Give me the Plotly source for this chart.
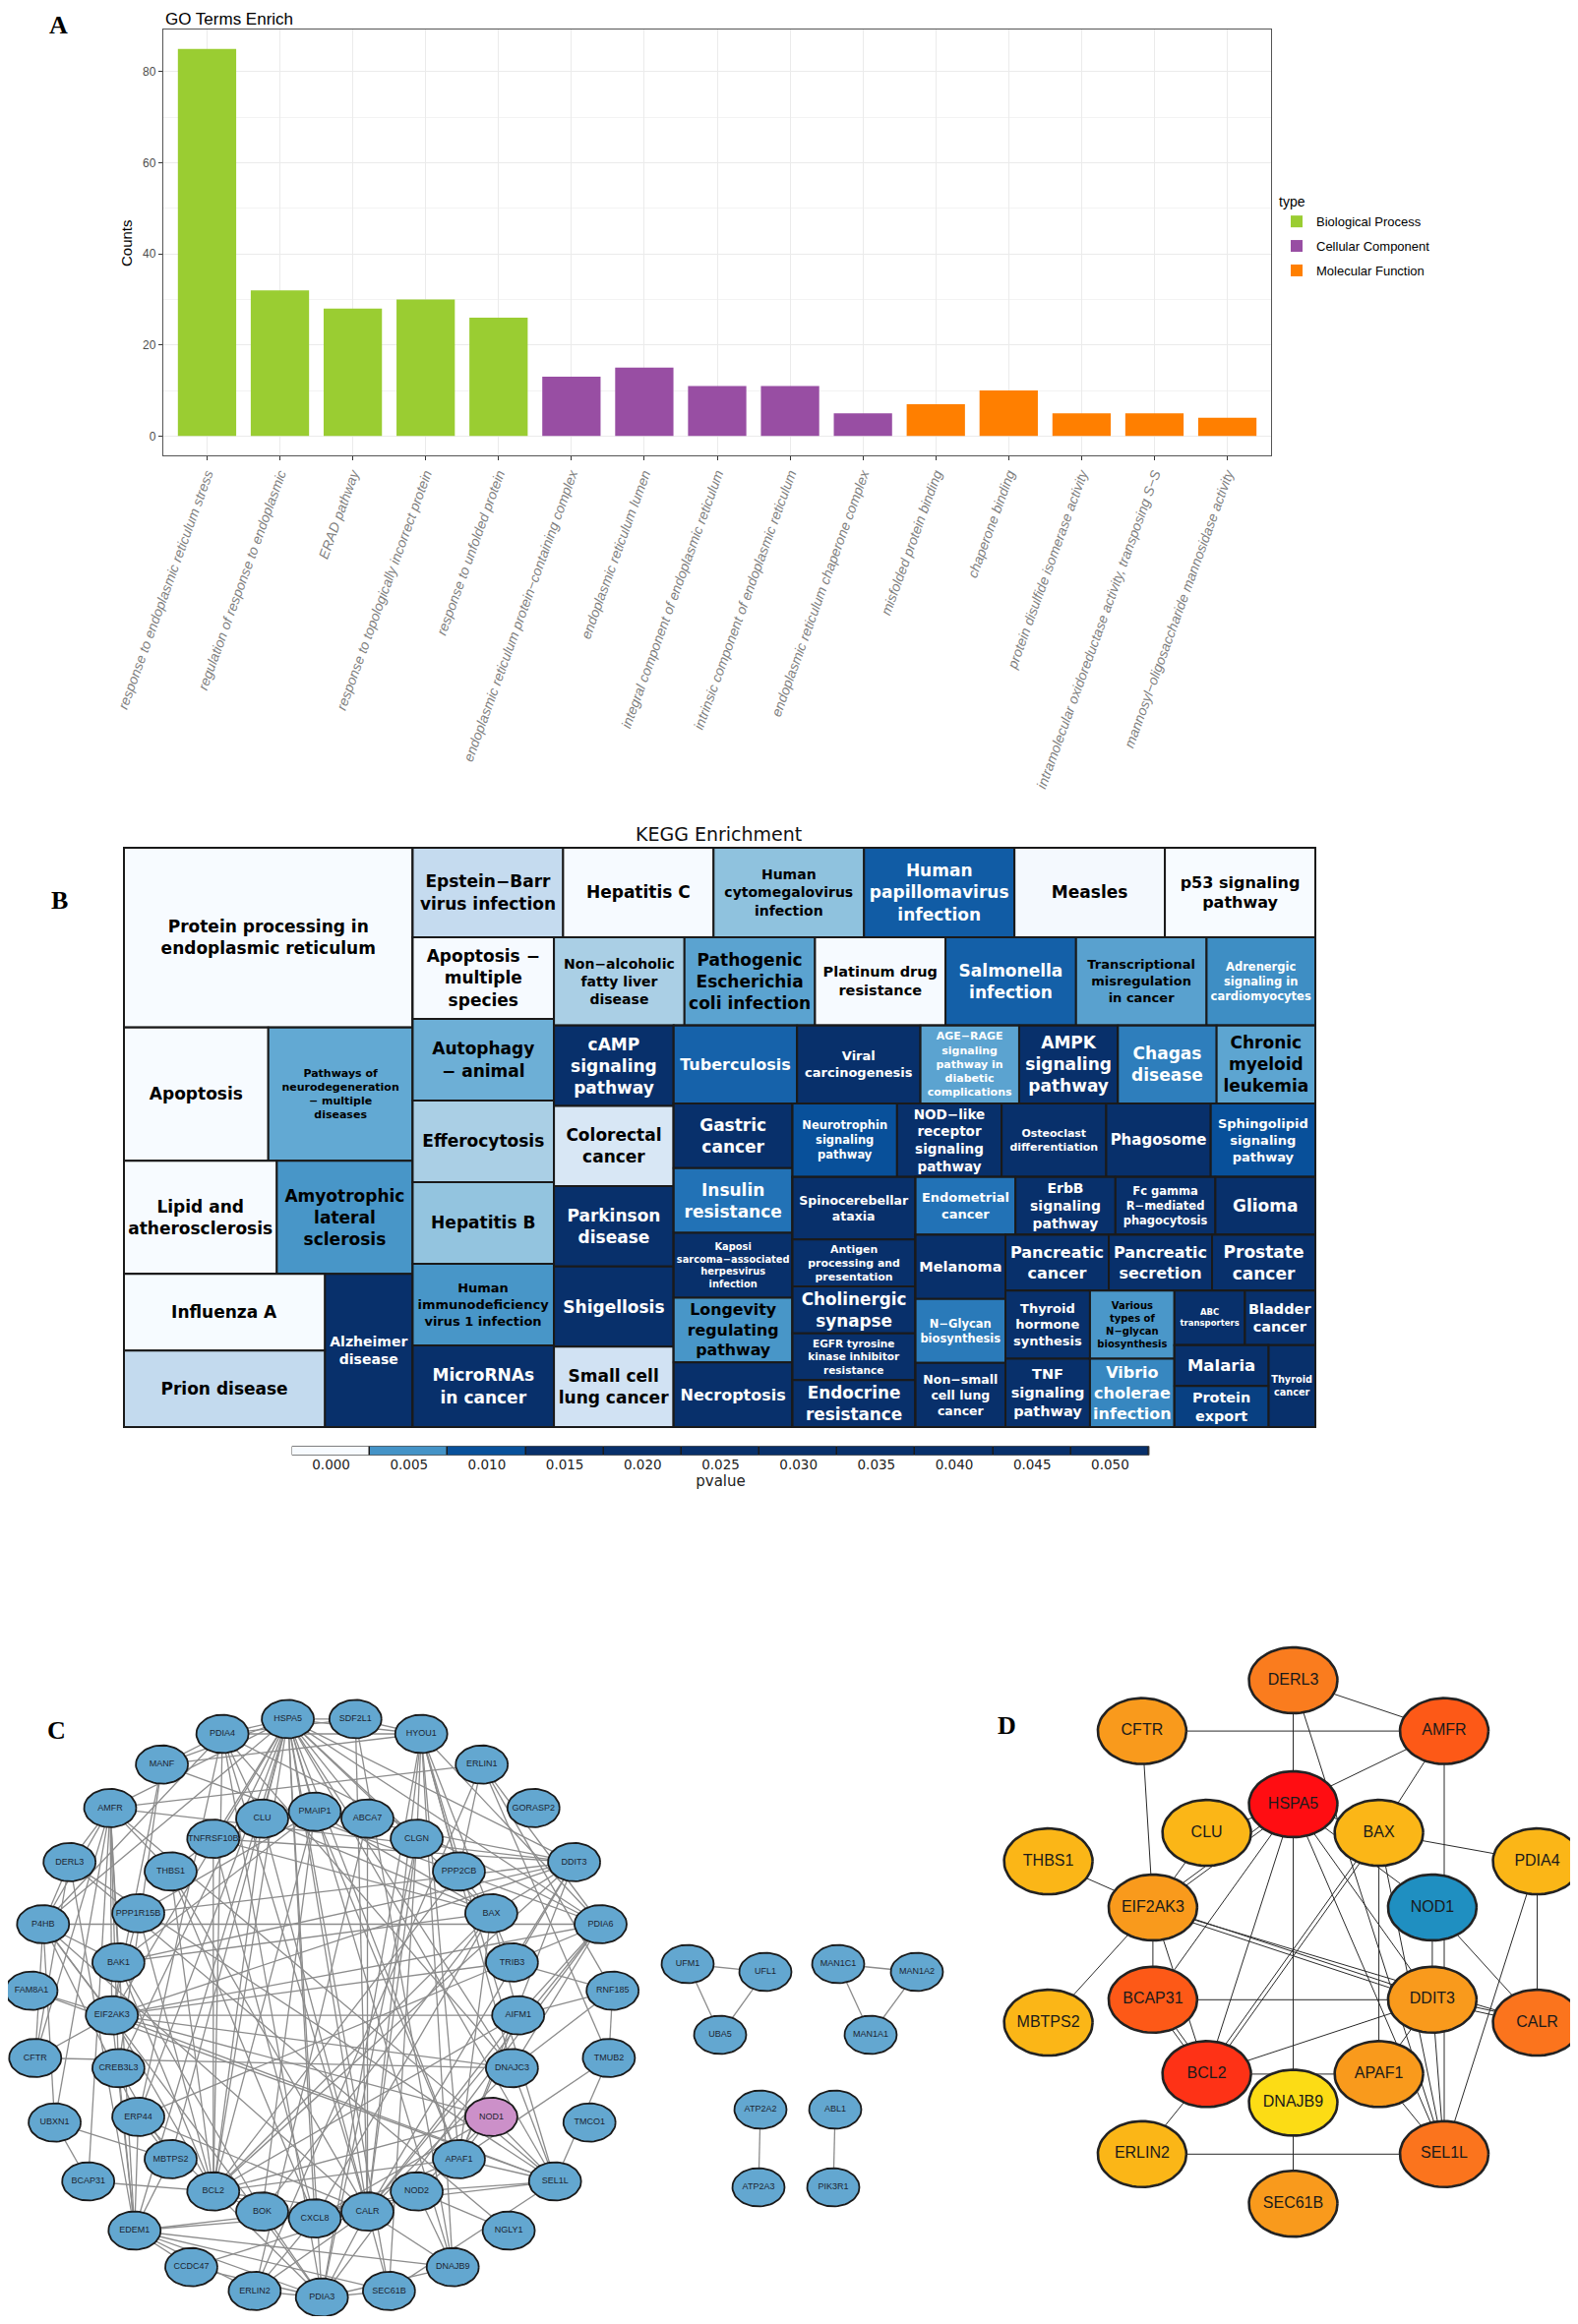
import numpy as np
import plotly.graph_objects as go
from plotly.colors import sample_colorscale, make_colorscale, sequential

# The page body keeps its default 8 px margin, so the figure is sized to fit the
# 1604 x 2363 window inside that margin and page positions are converted accordingly.
PAGE_W, PAGE_H, BODY_MARGIN = 1604, 2363, 8
W, H = PAGE_W - 2 * BODY_MARGIN, PAGE_H - 2 * BODY_MARGIN


def fx(v):
    return (v - BODY_MARGIN) / W


def fy(v):
    return 1 - (v - BODY_MARGIN) / H


# ---------------- Panel A : GO enrichment ----------------
go_terms = [
    "response to endoplasmic reticulum stress",
    "regulation of response to endoplasmic",
    "ERAD pathway",
    "response to topologically incorrect protein",
    "response to unfolded protein",
    "endoplasmic reticulum protein−containing complex",
    "endoplasmic reticulum lumen",
    "integral component of endoplasmic reticulum",
    "intrinsic component of endoplasmic reticulum",
    "endoplasmic reticulum chaperone complex",
    "misfolded protein binding",
    "chaperone binding",
    "protein disulfide isomerase activity",
    "intramolecular oxidoreductase activity, transposing S−S",
    "mannosyl−oligosaccharide mannosidase activity",
]
go_counts = [85, 32, 28, 30, 26, 13, 15, 11, 11, 5, 7, 10, 5, 5, 4]
go_types = (["Biological Process"] * 5 + ["Cellular Component"] * 5
            + ["Molecular Function"] * 5)
go_type_order = ["Biological Process", "Cellular Component", "Molecular Function"]
go_type_colors = ["#9acd32", "#984ea3", "#ff7f00"]

# ---------------- Panel B : KEGG treemap ----------------
kegg_terms = [
    "Protein processing in endoplasmic reticulum", "Apoptosis",
    "Pathways of neurodegeneration − multiple diseases", "Lipid and atherosclerosis",
    "Amyotrophic lateral sclerosis", "Influenza A", "Prion disease", "Alzheimer disease",
    "Epstein−Barr virus infection", "Hepatitis C", "Human cytomegalovirus infection",
    "Human papillomavirus infection", "Measles", "p53 signaling pathway",
    "Apoptosis − multiple species", "Autophagy − animal", "Efferocytosis", "Hepatitis B",
    "Human immunodeficiency virus 1 infection", "MicroRNAs in cancer",
    "Non−alcoholic fatty liver disease", "Pathogenic Escherichia coli infection",
    "Platinum drug resistance", "Salmonella infection",
    "Transcriptional misregulation in cancer", "Adrenergic signaling in cardiomyocytes",
    "cAMP signaling pathway", "Colorectal cancer", "Parkinson disease", "Shigellosis",
    "Small cell lung cancer", "Tuberculosis", "Viral carcinogenesis",
    "AGE−RAGE signaling pathway in diabetic complications", "AMPK signaling pathway",
    "Chagas disease", "Chronic myeloid leukemia", "Gastric cancer", "Insulin resistance",
    "Kaposi sarcoma−associated herpesvirus infection", "Longevity regulating pathway",
    "Necroptosis", "Neurotrophin signaling pathway", "NOD−like receptor signaling pathway",
    "Osteoclast differentiation", "Phagosome", "Sphingolipid signaling pathway",
    "Spinocerebellar ataxia", "Antigen processing and presentation", "Cholinergic synapse",
    "EGFR tyrosine kinase inhibitor resistance", "Endocrine resistance",
    "Endometrial cancer", "ErbB signaling pathway", "Fc gamma R−mediated phagocytosis",
    "Glioma", "Melanoma", "N−Glycan biosynthesis", "Non−small cell lung cancer",
    "Pancreatic cancer", "Pancreatic secretion", "Prostate cancer",
    "Thyroid hormone synthesis", "TNF signaling pathway",
    "Various types of N−glycan biosynthesis", "Vibrio cholerae infection",
    "ABC transporters", "Bladder cancer", "Malaria", "Protein export", "Thyroid cancer",
]
kegg_counts = [27, 10, 10, 9, 8, 8, 8, 7,
               7, 7, 7, 7, 7, 7,
               6, 6, 6, 6, 6, 6,
               6, 6, 6, 6, 6, 5,
               5, 5, 5, 5, 5,
               5, 5, 4, 4, 4, 4,
               4, 4, 4, 4, 4,
               4, 4, 4, 4, 4,
               4, 3, 3, 3, 3,
               3, 3, 3, 3,
               3, 3, 3,
               3, 3, 3,
               3, 3, 3, 3,
               2, 2, 2, 2, 2]
kegg_pvalues = [2e-8, 5e-6, 0.0036, 4e-6, 0.0048, 6e-6, 0.00085, 0.021,
                0.0008, 1e-5, 0.0022, 0.009, 3e-5, 5e-6,
                1e-5, 0.0032, 0.0015, 0.0021, 0.0048, 0.019,
                0.0015, 0.0039, 1.5e-5, 0.0087, 0.004, 0.0053,
                0.024, 0.00033, 0.028, 0.031, 0.0005,
                0.0085, 0.026, 0.0039, 0.020, 0.0064, 0.0038,
                0.033, 0.0072, 0.035, 0.0048, 0.037,
                0.0101, 0.022, 0.039, 0.040, 0.0101,
                0.041, 0.042, 0.043, 0.044, 0.045,
                0.0072, 0.025, 0.027, 0.029,
                0.030, 0.0067, 0.032,
                0.034, 0.036, 0.038,
                0.040, 0.046, 0.0047, 0.0058,
                0.047, 0.048, 0.049, 0.0115, 0.050]
kegg_labels = [
    "Protein processing in<br>endoplasmic reticulum", "Apoptosis",
    "Pathways of<br>neurodegeneration<br>− multiple<br>diseases", "Lipid and<br>atherosclerosis",
    "Amyotrophic<br>lateral<br>sclerosis", "Influenza A", "Prion disease", "Alzheimer<br>disease",
    "Epstein−Barr<br>virus infection", "Hepatitis C", "Human<br>cytomegalovirus<br>infection",
    "Human<br>papillomavirus<br>infection", "Measles", "p53 signaling<br>pathway",
    "Apoptosis −<br>multiple<br>species", "Autophagy<br>− animal", "Efferocytosis", "Hepatitis B",
    "Human<br>immunodeficiency<br>virus 1 infection", "MicroRNAs<br>in cancer",
    "Non−alcoholic<br>fatty liver<br>disease", "Pathogenic<br>Escherichia<br>coli infection",
    "Platinum drug<br>resistance", "Salmonella<br>infection",
    "Transcriptional<br>misregulation<br>in cancer", "Adrenergic<br>signaling in<br>cardiomyocytes",
    "cAMP<br>signaling<br>pathway", "Colorectal<br>cancer", "Parkinson<br>disease", "Shigellosis",
    "Small cell<br>lung cancer", "Tuberculosis", "Viral<br>carcinogenesis",
    "AGE−RAGE<br>signaling<br>pathway in<br>diabetic<br>complications", "AMPK<br>signaling<br>pathway",
    "Chagas<br>disease", "Chronic<br>myeloid<br>leukemia", "Gastric<br>cancer", "Insulin<br>resistance",
    "Kaposi<br>sarcoma−associated<br>herpesvirus<br>infection", "Longevity<br>regulating<br>pathway",
    "Necroptosis", "Neurotrophin<br>signaling<br>pathway", "NOD−like<br>receptor<br>signaling<br>pathway",
    "Osteoclast<br>differentiation", "Phagosome", "Sphingolipid<br>signaling<br>pathway",
    "Spinocerebellar<br>ataxia", "Antigen<br>processing and<br>presentation", "Cholinergic<br>synapse",
    "EGFR tyrosine<br>kinase inhibitor<br>resistance", "Endocrine<br>resistance",
    "Endometrial<br>cancer", "ErbB<br>signaling<br>pathway", "Fc gamma<br>R−mediated<br>phagocytosis",
    "Glioma", "Melanoma", "N−Glycan<br>biosynthesis", "Non−small<br>cell lung<br>cancer",
    "Pancreatic<br>cancer", "Pancreatic<br>secretion", "Prostate<br>cancer",
    "Thyroid<br>hormone<br>synthesis", "TNF<br>signaling<br>pathway",
    "Various<br>types of<br>N−glycan<br>biosynthesis", "Vibrio<br>cholerae<br>infection",
    "ABC<br>transporters", "Bladder<br>cancer", "Malaria", "Protein<br>export", "Thyroid<br>cancer",
]
kegg_fontsize = [17, 17, 11, 17, 17, 17, 17, 14,
                 17, 17, 14, 17, 17, 16,
                 17, 17, 17, 17, 13, 17,
                 14, 17, 14.5, 17, 13, 11.5,
                 17, 17, 17, 17, 17,
                 16, 13, 11, 17, 17, 17,
                 17, 17, 10, 17, 16,
                 11.5, 17, 11, 15, 13,
                 12.5, 11.5, 17, 10.5, 17,
                 13, 17, 11.5, 17,
                 14.5, 11.5, 12.5,
                 16, 16, 17,
                 13, 14.5, 10, 16,
                 8.5, 14.5, 16.5, 17, 10]
white_text_exceptions = ["AGE−RAGE signaling pathway in diabetic complications"]

# guillotine arrangement of the treemap (groups alternate column / row splits)
_r13 = [["Malaria", "Protein export"], "Thyroid cancer"]
_r12 = [["ABC transporters", "Bladder cancer"], _r13]
_r11 = [["Thyroid hormone synthesis", "TNF signaling pathway"],
        ["Various types of N−glycan biosynthesis", "Vibrio cholerae infection"], _r12]
_r10 = [["Pancreatic cancer", "Pancreatic secretion", "Prostate cancer"], _r11]
_r9 = [["Melanoma", "N−Glycan biosynthesis", "Non−small cell lung cancer"], _r10]
_r8 = [["Endometrial cancer", "ErbB signaling pathway", "Fc gamma R−mediated phagocytosis",
        "Glioma"], _r9]
_r7 = [["Spinocerebellar ataxia", "Antigen processing and presentation", "Cholinergic synapse",
        "EGFR tyrosine kinase inhibitor resistance", "Endocrine resistance"], _r8]
_r6 = [["Neurotrophin signaling pathway", "NOD−like receptor signaling pathway",
        "Osteoclast differentiation", "Phagosome", "Sphingolipid signaling pathway"], _r7]
_r5 = [["Gastric cancer", "Insulin resistance", "Kaposi sarcoma−associated herpesvirus infection",
        "Longevity regulating pathway", "Necroptosis"], _r6]
_r4 = [["Tuberculosis", "Viral carcinogenesis",
        "AGE−RAGE signaling pathway in diabetic complications", "AMPK signaling pathway",
        "Chagas disease", "Chronic myeloid leukemia"], _r5]
_r3 = [["cAMP signaling pathway", "Colorectal cancer", "Parkinson disease", "Shigellosis",
        "Small cell lung cancer"], _r4]
_r2 = [["Non−alcoholic fatty liver disease", "Pathogenic Escherichia coli infection",
        "Platinum drug resistance", "Salmonella infection",
        "Transcriptional misregulation in cancer", "Adrenergic signaling in cardiomyocytes"], _r3]
_r1 = [["Apoptosis − multiple species", "Autophagy − animal", "Efferocytosis", "Hepatitis B",
        "Human immunodeficiency virus 1 infection", "MicroRNAs in cancer"], _r2]
_right = [["Epstein−Barr virus infection", "Hepatitis C", "Human cytomegalovirus infection",
           "Human papillomavirus infection", "Measles", "p53 signaling pathway"], _r1]
_left = ["Protein processing in endoplasmic reticulum",
         ["Apoptosis", "Pathways of neurodegeneration − multiple diseases"],
         ["Lipid and atherosclerosis", "Amyotrophic lateral sclerosis"],
         [["Influenza A", "Prion disease"], "Alzheimer disease"]]
kegg_arrangement = [_left, _right]

legend_pvalues = [0.0, 0.005, 0.010, 0.015, 0.020, 0.025, 0.030, 0.035, 0.040, 0.045, 0.050]
legend_ticklabels = ["%.3f" % v for v in legend_pvalues]

# ---------------- Panel C : PPI network ----------------
c_nodes = ["HSPA5", "SDF2L1", "PDIA4", "HYOU1", "MANF", "ERLIN1", "AMFR", "GORASP2", "CLU",
           "PMAIP1", "ABCA7", "TNFRSF10B", "CLGN", "DERL3", "DDIT3", "THBS1", "PPP2CB",
           "PPP1R15B", "BAX", "P4HB", "PDIA6", "BAK1", "TRIB3", "FAM8A1", "RNF185",
           "EIF2AK3", "AIFM1", "CFTR", "TMUB2", "CREB3L3", "DNAJC3", "UBXN1", "ERP44",
           "NOD1", "TMCO1", "MBTPS2", "APAF1", "BCAP31", "SEL1L", "BCL2", "NOD2", "BOK",
           "CXCL8", "CALR", "EDEM1", "NGLY1", "CCDC47", "DNAJB9", "ERLIN2", "PDIA3", "SEC61B",
           "UFM1", "UFL1", "UBA5", "MAN1C1", "MAN1A2", "MAN1A1", "ATP2A2", "ATP2A3",
           "ABL1", "PIK3R1"]
c_x = [292.6, 361.3, 226.1, 428.2, 164.6, 489.7, 112.0, 542.3, 266.5,
       320.0, 373.5, 216.8, 423.6, 70.7, 583.6, 173.5, 466.5,
       140.6, 499.4, 43.8, 610.5, 120.4, 520.4, 32.0, 622.7,
       113.7, 526.7, 35.8, 618.9, 120.4, 520.4, 55.6, 140.6,
       499.4, 599.2, 173.5, 466.5, 89.7, 564.2, 216.8, 423.6, 266.5,
       320.0, 373.5, 136.8, 517.1, 194.5, 460.2, 258.9, 327.2, 395.4,
       699, 778, 732, 852, 932, 885, 773, 771, 849, 847]
c_y = [1747.9, 1747.9, 1763.0, 1763.0, 1794.2, 1794.2, 1838.4, 1838.4, 1849.1,
       1842.1, 1849.1, 1869.6, 1869.6, 1893.4, 1893.4, 1902.8, 1902.8,
       1945.4, 1945.4, 1956.5, 1956.5, 1995.4, 1995.4, 2024.1, 2024.1,
       2049.1, 2049.1, 2092.5, 2092.5, 2102.8, 2102.8, 2158.1, 2152.4,
       2152.4, 2158.1, 2195.4, 2195.4, 2218.0, 2218.0, 2228.2, 2228.2, 2248.7,
       2255.7, 2248.7, 2268.0, 2268.0, 2305.2, 2305.2, 2329.4, 2336.0, 2329.4,
       1997, 2005, 2069, 1997, 2005, 2069, 2145, 2224, 2145, 2224]
c_highlight = ["NOD1"]
c_edges = [
    ("HSPA5", "SDF2L1"), ("HSPA5", "PDIA4"), ("HSPA5", "HYOU1"), ("HSPA5", "MANF"),
    ("HSPA5", "AMFR"), ("HSPA5", "CLU"), ("HSPA5", "PMAIP1"), ("HSPA5", "ABCA7"),
    ("HSPA5", "TNFRSF10B"), ("HSPA5", "DDIT3"), ("HSPA5", "PDIA6"), ("HSPA5", "P4HB"),
    ("HSPA5", "EIF2AK3"), ("HSPA5", "DNAJC3"), ("HSPA5", "CALR"), ("HSPA5", "BCL2"),
    ("HSPA5", "ERP44"), ("HSPA5", "EDEM1"), ("HSPA5", "SEL1L"), ("HSPA5", "DNAJB9"),
    ("HSPA5", "SEC61B"), ("HSPA5", "PDIA3"), ("HSPA5", "MBTPS2"), ("HSPA5", "BAX"),
    ("HSPA5", "APAF1"), ("HSPA5", "CLGN"), ("HSPA5", "CXCL8"), ("HSPA5", "CREB3L3"),
    ("SDF2L1", "HYOU1"), ("SDF2L1", "PDIA4"), ("SDF2L1", "CALR"), ("SDF2L1", "DNAJB9"),
    ("PDIA4", "HYOU1"), ("PDIA4", "MANF"), ("PDIA4", "P4HB"), ("PDIA4", "PDIA6"),
    ("PDIA4", "CALR"), ("PDIA4", "PDIA3"), ("PDIA4", "ERP44"), ("PDIA4", "CLU"),
    ("PDIA4", "DNAJC3"), ("PDIA4", "BCL2"),
    ("HYOU1", "CLGN"), ("HYOU1", "PDIA6"), ("HYOU1", "DNAJC3"), ("HYOU1", "CALR"),
    ("HYOU1", "MANF"), ("HYOU1", "PDIA3"), ("HYOU1", "DNAJB9"), ("HYOU1", "BAX"),
    ("HYOU1", "PPP2CB"), ("HYOU1", "SEL1L"), ("HYOU1", "APAF1"),
    ("MANF", "PDIA6"), ("MANF", "EIF2AK3"), ("MANF", "CREB3L3"),
    ("AMFR", "DERL3"), ("AMFR", "P4HB"), ("AMFR", "EIF2AK3"), ("AMFR", "THBS1"),
    ("AMFR", "ERLIN1"), ("AMFR", "SEL1L"), ("AMFR", "BCAP31"), ("AMFR", "EDEM1"),
    ("AMFR", "UBXN1"), ("AMFR", "DDIT3"), ("AMFR", "CFTR"), ("AMFR", "BAK1"),
    ("AMFR", "CREB3L3"),
    ("ERLIN1", "ERLIN2"), ("ERLIN1", "PDIA6"), ("ERLIN1", "PPP2CB"), ("ERLIN1", "TMUB2"),
    ("ERLIN1", "RNF185"),
    ("DDIT3", "TNFRSF10B"), ("DDIT3", "TRIB3"), ("DDIT3", "BAX"), ("DDIT3", "EIF2AK3"),
    ("DDIT3", "PMAIP1"), ("DDIT3", "BCL2"), ("DDIT3", "PPP1R15B"), ("DDIT3", "CALR"),
    ("DDIT3", "BAK1"), ("DDIT3", "APAF1"),
    ("PDIA6", "P4HB"), ("PDIA6", "DNAJC3"), ("PDIA6", "CALR"), ("PDIA6", "EIF2AK3"),
    ("PDIA6", "PDIA3"), ("PDIA6", "AIFM1"), ("PDIA6", "ERP44"),
    ("P4HB", "BAK1"), ("P4HB", "EIF2AK3"), ("P4HB", "UBXN1"), ("P4HB", "ERP44"),
    ("P4HB", "CALR"), ("P4HB", "PDIA3"), ("P4HB", "DERL3"), ("P4HB", "CFTR"),
    ("BAX", "BAK1"), ("BAX", "BCL2"), ("BAX", "PMAIP1"), ("BAX", "CLU"), ("BAX", "AIFM1"),
    ("BAX", "APAF1"), ("BAX", "TNFRSF10B"), ("BAX", "BOK"), ("BAX", "PPP2CB"),
    ("BAX", "TRIB3"), ("BAX", "CXCL8"),
    ("BCL2", "BAK1"), ("BCL2", "PMAIP1"), ("BCL2", "BOK"), ("BCL2", "CXCL8"), ("BCL2", "CLU"),
    ("BCL2", "EIF2AK3"), ("BCL2", "APAF1"), ("BCL2", "BCAP31"), ("BCL2", "TNFRSF10B"),
    ("BCL2", "THBS1"), ("BCL2", "CALR"), ("BCL2", "AIFM1"), ("BCL2", "PPP2CB"),
    ("BCL2", "NOD1"),
    ("CALR", "PDIA3"), ("CALR", "CLU"), ("CALR", "EDEM1"), ("CALR", "SEC61B"),
    ("CALR", "DNAJB9"), ("CALR", "AIFM1"), ("CALR", "DNAJC3"), ("CALR", "CLGN"),
    ("CALR", "ERP44"), ("CALR", "THBS1"), ("CALR", "CCDC47"), ("CALR", "ERLIN2"),
    ("EDEM1", "SEL1L"), ("EDEM1", "DERL3"), ("EDEM1", "PDIA3"), ("EDEM1", "ERLIN2"),
    ("EDEM1", "SEC61B"), ("EDEM1", "DNAJB9"), ("EDEM1", "MBTPS2"), ("EDEM1", "CREB3L3"),
    ("EDEM1", "EIF2AK3"), ("EDEM1", "CCDC47"), ("EDEM1", "ERP44"),
    ("NOD1", "NOD2"), ("NOD1", "CXCL8"), ("NOD1", "APAF1"), ("NOD1", "EIF2AK3"),
    ("NOD1", "SEL1L"),
    ("TMUB2", "RNF185"), ("TMUB2", "APAF1"),
    ("UBXN1", "BCAP31"), ("UBXN1", "MBTPS2"),
    ("FAM8A1", "EIF2AK3"), ("FAM8A1", "SEL1L"),
    ("CFTR", "DNAJC3"), ("CFTR", "DERL3"), ("CFTR", "EIF2AK3"),
    ("CREB3L3", "MBTPS2"), ("ERP44", "MBTPS2"), ("ERP44", "PDIA3"),
    ("SEC61B", "PDIA3"), ("SEC61B", "SEL1L"), ("CCDC47", "PDIA3"),
    ("ERLIN2", "PDIA3"), ("ERLIN2", "CXCL8"), ("DNAJB9", "NOD2"), ("DNAJB9", "PDIA3"),
    ("NOD2", "CXCL8"), ("NOD2", "APAF1"), ("NOD2", "SEL1L"), ("NOD2", "NGLY1"),
    ("APAF1", "AIFM1"), ("APAF1", "PMAIP1"), ("APAF1", "SEL1L"), ("APAF1", "CXCL8"),
    ("SEL1L", "DERL3"), ("SEL1L", "DNAJC3"), ("SEL1L", "EIF2AK3"), ("SEL1L", "TMUB2"),
    ("AIFM1", "RNF185"), ("AIFM1", "EIF2AK3"), ("RNF185", "TRIB3"), ("RNF185", "DNAJC3"),
    ("TRIB3", "EIF2AK3"), ("PPP1R15B", "EIF2AK3"), ("PPP1R15B", "PMAIP1"),
    ("PPP1R15B", "BCL2"), ("THBS1", "CXCL8"), ("THBS1", "TNFRSF10B"),
    ("TNFRSF10B", "PMAIP1"), ("TNFRSF10B", "CXCL8"), ("PMAIP1", "BAK1"), ("PMAIP1", "BOK"),
    ("ABCA7", "CALR"), ("ABCA7", "ERLIN2"), ("CLGN", "PDIA3"), ("CLGN", "SEC61B"),
    ("BOK", "BAK1"), ("BOK", "PDIA3"), ("DNAJC3", "EIF2AK3"), ("NGLY1", "DERL3"),
    ("UFM1", "UFL1"), ("UFM1", "UBA5"), ("UFL1", "UBA5"),
    ("MAN1C1", "MAN1A2"), ("MAN1C1", "MAN1A1"), ("MAN1A2", "MAN1A1"),
    ("ATP2A2", "ATP2A3"), ("ABL1", "PIK3R1"),
]

# ---------------- Panel D : hub genes ----------------
d_nodes = ["DERL3", "CFTR", "AMFR", "HSPA5", "CLU", "BAX", "THBS1", "PDIA4", "EIF2AK3",
           "NOD1", "BCAP31", "MBTPS2", "DDIT3", "CALR", "BCL2", "APAF1", "DNAJB9", "ERLIN2",
           "SEL1L", "SEC61B"]
d_x = [1314.5, 1160.9, 1468.0, 1314.5, 1226.6, 1401.6, 1065.6, 1562.5, 1171.9,
       1455.9, 1171.9, 1065.6, 1455.9, 1562.5, 1226.6, 1401.6, 1314.5, 1160.9,
       1468.0, 1314.5]
d_y = [1708.5, 1760.1, 1760.1, 1834.5, 1863.6, 1863.6, 1892.6, 1892.6, 1939.5,
       1939.5, 2033.3, 2056.6, 2033.3, 2056.6, 2108.9, 2108.9, 2138.0, 2190.3,
       2190.3, 2240.7]
# hub rank score (1 = top hub); NOD1 is the highlighted query gene (no score)
d_score = [0.68, 0.55, 0.82, 1.0, 0.40, 0.40, 0.40, 0.40, 0.55,
           None, 0.82, 0.40, 0.55, 0.72, 0.92, 0.55, 0.10, 0.40,
           0.72, 0.55]
d_edges = [
    ("DERL3", "AMFR"), ("DERL3", "HSPA5"), ("DERL3", "SEL1L"), ("CFTR", "AMFR"),
    ("CFTR", "EIF2AK3"), ("AMFR", "HSPA5"), ("AMFR", "BAX"), ("AMFR", "SEL1L"),
    ("HSPA5", "CLU"), ("HSPA5", "BAX"), ("HSPA5", "EIF2AK3"), ("HSPA5", "EIF2AK3"),
    ("HSPA5", "BCAP31"), ("HSPA5", "BCL2"), ("HSPA5", "DNAJB9"), ("HSPA5", "DDIT3"),
    ("HSPA5", "SEL1L"), ("HSPA5", "NOD1"), ("BAX", "PDIA4"), ("BAX", "APAF1"),
    ("BAX", "BCL2"), ("BAX", "BCL2"), ("BAX", "SEL1L"), ("CLU", "EIF2AK3"),
    ("THBS1", "EIF2AK3"), ("EIF2AK3", "MBTPS2"), ("EIF2AK3", "BCAP31"), ("EIF2AK3", "BCL2"),
    ("EIF2AK3", "DDIT3"), ("EIF2AK3", "DDIT3"), ("EIF2AK3", "CALR"), ("NOD1", "DDIT3"),
    ("NOD1", "CALR"), ("PDIA4", "CALR"), ("PDIA4", "SEL1L"), ("BCAP31", "DDIT3"),
    ("BCAP31", "BCL2"), ("BCAP31", "BCL2"), ("BCL2", "DDIT3"), ("BCL2", "APAF1"),
    ("BCL2", "ERLIN2"), ("DNAJB9", "SEC61B"), ("ERLIN2", "SEL1L"), ("DDIT3", "CALR"),
    ("DDIT3", "CALR"), ("DDIT3", "APAF1"), ("APAF1", "SEL1L"), ("DDIT3", "SEL1L"),
]

# =====================================================================
fig = go.Figure()

# ---- A: bars ----
for tname, tcol in zip(go_type_order, go_type_colors):
    xs = [t for t, ty in zip(go_terms, go_types) if ty == tname]
    ys = [c for c, ty in zip(go_counts, go_types) if ty == tname]
    fig.add_trace(go.Bar(x=xs, y=ys, name=tname, legendgroup=tname,
                         marker=dict(color=tcol, line=dict(width=0)),
                         width=0.8, xaxis="x", yaxis="y", hoverinfo="x+y"))

# ---- B: treemap ----
blues = make_colorscale(sequential.Blues)


def p_to_t(p):
    return min(1.0, float(np.sqrt(p / 0.013)))


cs_stops = sorted(set([float(v) for v in np.linspace(0, 0.013 / 0.05, 41)] + [1.0]))
kegg_cs = [[s, sample_colorscale(blues, [p_to_t(s * 0.05)])[0]] for s in cs_stops]

tm_ids, tm_par, tm_lab, tm_val, tm_col, tm_txt, tm_fs, tm_fc = [], [], [], [], [], [], [], []
gcounter = [0]


def add_node(node, parent):
    if isinstance(node, str):
        i = kegg_terms.index(node)
        tm_ids.append(node)
        tm_par.append(parent)
        tm_lab.append(node)
        tm_val.append(kegg_counts[i])
        tm_col.append(kegg_pvalues[i])
        tm_txt.append("<br>".join("<b>%s</b>" % ln for ln in kegg_labels[i].split("<br>")))
        tm_fs.append(kegg_fontsize[i])
        dark = kegg_pvalues[i] < 0.005 and node not in white_text_exceptions
        tm_fc.append("#000000" if dark else "#ffffff")
    else:
        gid = "grp%d" % gcounter[0]
        gcounter[0] += 1
        tm_ids.append(gid)
        tm_par.append(parent)
        tm_lab.append("")
        tm_val.append(0)
        tm_col.append(0.0)
        tm_txt.append("")
        tm_fs.append(10)
        tm_fc.append("#000000")
        for ch in node:
            add_node(ch, gid)


add_node(kegg_arrangement, "")

fig.add_trace(go.Treemap(
    ids=tm_ids, parents=tm_par, labels=tm_lab, values=tm_val, text=tm_txt,
    branchvalues="remainder", sort=False, textinfo="text",
    textposition="middle center",
    textfont=dict(family="DejaVu Sans", size=tm_fs, color=tm_fc),
    marker=dict(colors=tm_col, colorscale=kegg_cs, cmin=0, cmax=0.05, showscale=False,
                line=dict(color="#1a1a1a", width=2), pad=dict(t=0, l=0, r=0, b=0)),
    tiling=dict(packing="slice-dice", pad=0),
    pathbar=dict(visible=False),
    domain=dict(x=[fx(126), fx(1337)], y=[fy(1451), fy(862)]),
    hoverinfo="label+value",
))

# ---- B: binned p-value legend ----
fig.add_trace(go.Heatmap(
    z=[legend_pvalues], x=legend_ticklabels, y=["p"], colorscale=kegg_cs, zmin=0, zmax=0.05,
    showscale=False, xgap=1.5, xaxis="x2", yaxis="y2", hoverinfo="skip"))


# ---- C & D: networks ----
def edge_coords(xmap, ymap, edges, spacing):
    totals = {}
    for a, b in edges:
        k = tuple(sorted((a, b)))
        totals[k] = totals.get(k, 0) + 1
    seen = {}
    ex, ey = [], []
    for a, b in edges:
        k = tuple(sorted((a, b)))
        n = totals[k]
        j = seen.get(k, 0)
        seen[k] = j + 1
        x0, y0, x1, y1 = xmap[a], ymap[a], xmap[b], ymap[b]
        off = (j - (n - 1) / 2.0) * spacing
        dx, dy = x1 - x0, y1 - y0
        L = float(np.hypot(dx, dy))
        ox, oy = -dy / L * off, dx / L * off
        ex += [x0 + ox, x1 + ox, None]
        ey += [y0 + oy, y1 + oy, None]
    return ex, ey


theta = np.linspace(0, 2 * np.pi, 64)


def ellipse_coords(xs, ys, rx, ry):
    ex, ey = [], []
    for cx, cy in zip(xs, ys):
        ex += [float(v) for v in cx + rx * np.cos(theta)] + [None]
        ey += [float(v) for v in cy + ry * np.sin(theta)] + [None]
    return ex, ey


cxm = dict(zip(c_nodes, c_x))
cym = dict(zip(c_nodes, c_y))
ex, ey = edge_coords(cxm, cym, c_edges, 3.0)
fig.add_trace(go.Scatter(x=ex, y=ey, mode="lines", line=dict(color="#8c8c8c", width=1.3),
                         xaxis="x3", yaxis="y3", hoverinfo="skip", showlegend=False))
for is_hl, fill in [(False, "#63a7d0"), (True, "#cc90c9")]:
    sel = [(x, y) for n, x, y in zip(c_nodes, c_x, c_y) if (n in c_highlight) == is_hl]
    px_, py_ = ellipse_coords([s[0] for s in sel], [s[1] for s in sel], 26.5, 19.5)
    fig.add_trace(go.Scatter(x=px_, y=py_, mode="lines", fill="toself", fillcolor=fill,
                             line=dict(color="#1a1a1a", width=1.8), xaxis="x3", yaxis="y3",
                             hoverinfo="skip", showlegend=False))
fig.add_trace(go.Scatter(x=c_x, y=c_y, text=c_nodes, mode="text",
                         textfont=dict(family="Arial", size=9, color="#1c2530"),
                         xaxis="x3", yaxis="y3", hoverinfo="text", showlegend=False))

dxm = dict(zip(d_nodes, d_x))
dym = dict(zip(d_nodes, d_y))
ex, ey = edge_coords(dxm, dym, d_edges, 4.0)
fig.add_trace(go.Scatter(x=ex, y=ey, mode="lines", line=dict(color="#2a2a2a", width=1.0),
                         xaxis="x3", yaxis="y3", hoverinfo="skip", showlegend=False))
d_cs = [[0.0, "#fde619"], [0.10, "#fcdc15"], [0.40, "#fbb617"], [0.55, "#f99a1c"],
        [0.68, "#fa7c1e"], [0.72, "#fb741d"], [0.82, "#fd5917"], [0.92, "#fe3216"],
        [1.0, "#ff0d12"]]
d_fill = [sample_colorscale(d_cs, [s])[0] if s is not None else "#1f8fc1" for s in d_score]
for fill in sorted(set(d_fill)):
    sel = [(x, y) for x, y, f in zip(d_x, d_y, d_fill) if f == fill]
    px_, py_ = ellipse_coords([s[0] for s in sel], [s[1] for s in sel], 45, 33.5)
    fig.add_trace(go.Scatter(x=px_, y=py_, mode="lines", fill="toself", fillcolor=fill,
                             line=dict(color="#222222", width=2.6), xaxis="x3", yaxis="y3",
                             hoverinfo="skip", showlegend=False))
fig.add_trace(go.Scatter(x=d_x, y=d_y, text=d_nodes, mode="text",
                         textfont=dict(family="Arial", size=16, color="#1a1a1a"),
                         xaxis="x3", yaxis="y3", hoverinfo="text", showlegend=False))

# ---- layout ----
NET_TOP = 1640
axis_grey = "#4d4d4d"
fig.update_layout(
    width=W, height=H, margin=dict(l=0, r=0, t=0, b=0, autoexpand=False),
    paper_bgcolor="white", plot_bgcolor="white",
    font=dict(family="Arial", color="#000000"),
    barmode="overlay", showlegend=True,
    legend=dict(x=fx(1298), y=fy(192), xanchor="left", yanchor="top",
                title=dict(text="type", font=dict(size=14, color="#000")),
                font=dict(size=13, color="#000"), bgcolor="rgba(0,0,0,0)",
                tracegroupgap=5, itemwidth=30),
    xaxis=dict(domain=[fx(166), fx(1292)], anchor="y", type="category", automargin=False,
               categoryorder="array", categoryarray=go_terms, range=[-0.6, 14.6],
               tickangle=-70, tickfont=dict(size=14, color="#7f7f7f", style="italic"),
               ticks="outside", ticklen=4, tickcolor="#333", showgrid=True,
               gridcolor="#ebebeb", gridwidth=1, showline=True, mirror=True,
               linecolor="#555", linewidth=1.3, zeroline=False),
    yaxis=dict(domain=[fy(463), fy(30)], anchor="x", range=[-4.25, 89.25], automargin=False,
               tickvals=[0, 20, 40, 60, 80], ticks="outside", ticklen=4, tickcolor="#333",
               tickfont=dict(size=12, color=axis_grey), showgrid=True, gridcolor="#ebebeb",
               gridwidth=1.3,
               minor=dict(tickvals=[10, 30, 50, 70], showgrid=True, gridcolor="#f3f3f3",
                          gridwidth=0.8, ticks=""),
               showline=True, mirror=True, linecolor="#555", linewidth=1.3, zeroline=False),
    xaxis2=dict(domain=[fx(297), fx(1168)], anchor="y2", type="category", automargin=False,
                showgrid=False, zeroline=False, showline=False, ticks="",
                tickfont=dict(family="DejaVu Sans", size=13.5, color="#222"),
                title=dict(text="pvalue", font=dict(family="DejaVu Sans", size=15,
                                                    color="#222"), standoff=0)),
    yaxis2=dict(domain=[fy(1479.5), fy(1470.5)], anchor="x2", showticklabels=False,
                automargin=False, showgrid=False, zeroline=False, ticks=""),
    xaxis3=dict(domain=[0, 1], anchor="y3", range=[BODY_MARGIN, BODY_MARGIN + W],
                visible=False, fixedrange=True, automargin=False),
    yaxis3=dict(domain=[0, fy(NET_TOP)], anchor="x3", range=[BODY_MARGIN + H, NET_TOP],
                visible=False, fixedrange=True, automargin=False),
    shapes=[dict(type="rect", xref="x2 domain", yref="y2 domain", x0=0, x1=1, y0=0, y1=1,
                 fillcolor="#1a1a1a", line=dict(color="#555", width=1), layer="below")],
)

panel_font = dict(family="Liberation Serif, Times New Roman, serif", size=26, color="#000")
annots = [("A", 59, 26), ("B", 60, 915), ("C", 57, 1759), ("D", 1023, 1754)]
for letter, ax_, ay_ in annots:
    fig.add_annotation(text="<b>%s</b>" % letter, x=fx(ax_), y=fy(ay_), xref="paper",
                       yref="paper", showarrow=False, xanchor="center", yanchor="middle",
                       font=panel_font)
fig.add_annotation(text="GO Terms Enrich", x=fx(166), y=fy(20), xref="paper", yref="paper",
                   showarrow=False, xanchor="left", yanchor="middle",
                   font=dict(family="Arial", size=17, color="#000"))
fig.add_annotation(text="Counts", x=fx(129), y=fy(247), xref="paper", yref="paper",
                   showarrow=False, textangle=-90, xanchor="center", yanchor="middle",
                   font=dict(family="Arial", size=15, color="#000"))
fig.add_annotation(text="KEGG Enrichment", x=fx(730), y=fy(848), xref="paper", yref="paper",
                   showarrow=False, xanchor="center", yanchor="middle",
                   font=dict(family="DejaVu Sans", size=19, color="#111"))

fig.write_html("out.html")
